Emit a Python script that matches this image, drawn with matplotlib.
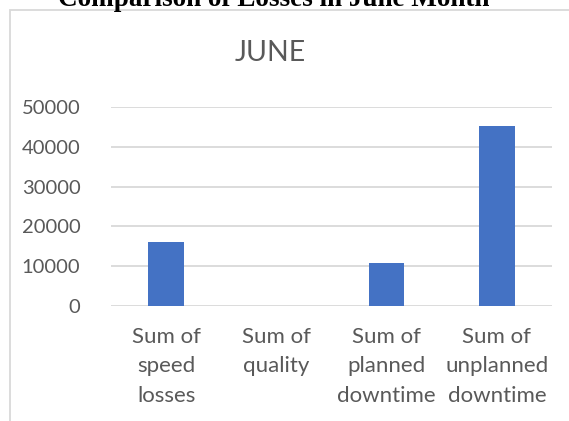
import matplotlib
matplotlib.use("Agg")
import matplotlib.pyplot as plt
from matplotlib.patches import Rectangle

categories = ["Sum of\nspeed\nlosses", "Sum of\nquality", "Sum of\nplanned\ndowntime", "Sum of\nunplanned\ndowntime"]
values = [16100, 0, 10800, 45200]
yticks = [0, 10000, 20000, 30000, 40000, 50000]

W, H = 569, 421
fig = plt.figure(figsize=(W / 100, H / 100), dpi=100)
fig.patch.set_facecolor("white")

def fx(px):
    return px / W

def fy(py):
    return 1 - py / H

# chart border
fig.add_artist(Rectangle((fx(9.5), fy(440)), fx(600), fy(9.5) - fy(440),
                         transform=fig.transFigure, fill=False,
                         edgecolor="#d9d9d9", linewidth=1.3))

# outer caption (clipped at top)
fig.text(fx(274), fy(6), "Comparison of Losses in June Month", ha="center", va="baseline",
         family="Liberation Serif", fontweight="bold", fontsize=19.5, color="black")

ax = fig.add_axes([fx(111), fy(306), fx(552) - fx(111), fy(107) - fy(306)])
x = list(range(len(categories)))
ax.bar(x, values, width=0.32, color="#4472C4", zorder=3)
ax.set_xlim(-0.5, len(categories) - 0.5)
ax.set_ylim(0, 50000)
ax.set_yticks(yticks)
ax.set_yticklabels([str(v) for v in yticks])
ax.set_xticks(x)
ax.set_xticklabels(categories, linespacing=1.6)
ax.grid(axis="y", color="#d9d9d9", linewidth=1.3, zorder=0)
for s in ax.spines.values():
    s.set_visible(False)
ax.tick_params(axis="both", length=0, labelcolor="#595959")
ax.tick_params(axis="y", pad=22, labelsize=14.5)
ax.tick_params(axis="x", pad=15, labelsize=16)
for lab in ax.get_xticklabels() + ax.get_yticklabels():
    lab.set_family("Lato")

fig.text(fx(270), fy(53), "JUNE", ha="center", va="center", family="Lato",
         fontsize=20.5, color="#595959")

fig.savefig("out.png", dpi=100)
